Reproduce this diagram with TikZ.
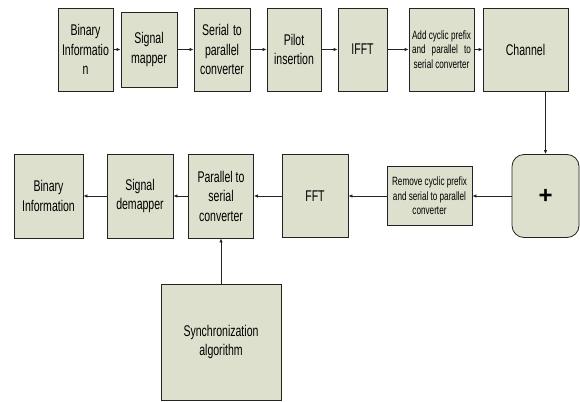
\documentclass[tikz,border=0pt]{standalone}
\usepackage{fontspec}
\setmainfont{Liberation Sans}[FakeStretch=0.68]
\newfontfamily\plusfont{Liberation Sans}
\usetikzlibrary{arrows.meta,calc}
\definecolor{boxfill}{RGB}{221,224,204}
\definecolor{edge}{RGB}{35,35,35}
\begin{document}
\begin{tikzpicture}[x=1pt,y=-1pt,
  blk/.style={draw=edge, fill=boxfill, line width=0.8pt, align=center, inner sep=1pt,
    font=\fontsize{15.5}{19.5}\selectfont},
  sblk/.style={blk, font=\fontsize{12}{14.5}\selectfont},
  arr/.style={draw=edge, line width=0.8pt, -{Latex[length=4pt,width=3.5pt]}}]
\useasboundingbox (0,0) rectangle (580,401);
% top row
\node[blk, minimum width=55pt, minimum height=83pt] (bin1) at (85.5,49.5) {Binary\\Informatio\\n};
\node[blk, minimum width=56pt, minimum height=75pt] (map) at (149,49.5) {Signal\\mapper};
\node[blk, minimum width=56pt, minimum height=83pt] (s2p) at (222,49.5) {Serial\hspace{4pt}to\\parallel\\converter};
\node[blk, minimum width=54pt, minimum height=83pt] (pilot) at (294,49.5) {Pilot\\insertion};
\node[blk, minimum width=49pt, minimum height=83pt] (ifft) at (362.5,49.5) {IFFT};
\node[sblk, minimum width=65pt, minimum height=83pt] (addcp) at (441.5,49.5) {Add cyclic prefix\\\makebox[59pt][s]{and parallel to}\\serial converter};
\node[blk, minimum width=85pt, minimum height=83pt] (chan) at (525.5,49.5) {Channel};
% bottom row
\node[blk, minimum width=67pt, minimum height=83pt, rounded corners=12pt,
  font=\plusfont\bfseries\fontsize{24}{24}\selectfont] (plus) at (545.5,196) {+};
\node[sblk, minimum width=85pt, minimum height=59pt] (rem) at (429.5,196) {Remove cyclic prefix\\and serial to parallel\\converter};
\node[blk, minimum width=66pt, minimum height=83pt] (fft) at (315,196) {FFT};
\node[blk, minimum width=65pt, minimum height=84pt] (p2s) at (221,196) {Parallel to\\serial\\converter};
\node[blk, minimum width=66pt, minimum height=84pt] (demap) at (140,196) {Signal\\demapper};
\node[blk, minimum width=69pt, minimum height=84pt] (bin2) at (48.5,196) {Binary\\Information};
\node[blk, minimum width=120pt, minimum height=116pt] (sync) at (221,342) {Synchronization\\algorithm};
% connectors
\draw[arr] (bin1) -- (map);
\draw[arr] (map) -- (s2p);
\draw[arr] (s2p) -- (pilot);
\draw[arr] (pilot) -- (ifft);
\draw[arr] (ifft) -- (addcp);
\draw[arr] (addcp) -- (chan);
\draw[arr] (chan.south -| plus.north) -- (plus.north);
\draw[arr] (plus) -- (rem);
\draw[arr] (rem) -- (fft);
\draw[arr] (fft) -- (p2s);
\draw[arr] (p2s) -- (demap);
\draw[arr] (demap) -- (bin2);
\draw[arr] (sync.north) -- (p2s.south);
\end{tikzpicture}
\end{document}
